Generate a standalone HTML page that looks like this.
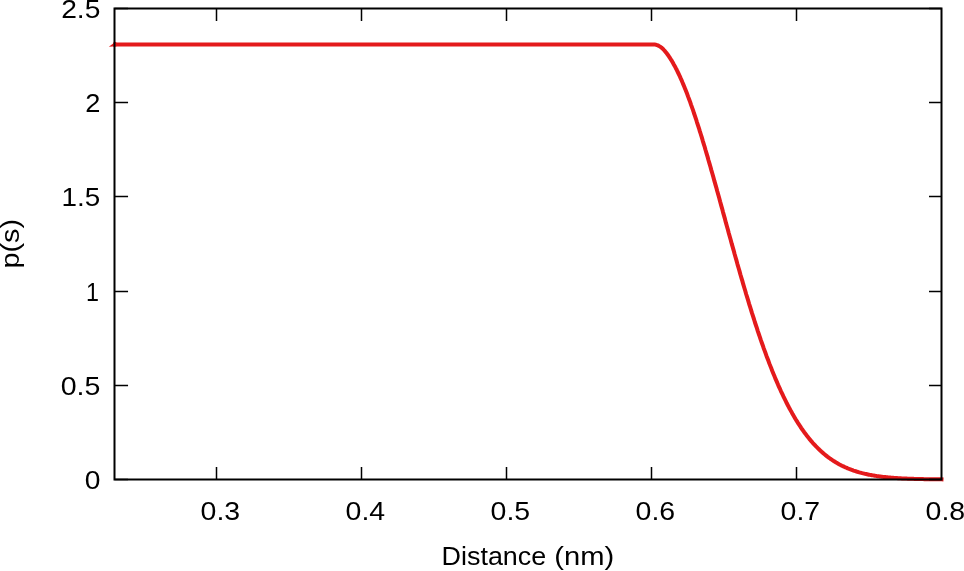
<!DOCTYPE html>
<html>
<head>
<meta charset="utf-8">
<title>p(s) vs Distance (nm)</title>
<style>
html,body{margin:0;padding:0;background:#ffffff;}
body{width:964px;height:571px;overflow:hidden;font-family:"Liberation Sans",sans-serif;}
svg{display:block;position:absolute;left:0;top:0;will-change:transform;}
text{font-family:"Liberation Sans",sans-serif;font-size:25.7px;fill:#000;}
</style>
</head>
<body>
<svg width="964" height="571" viewBox="0 0 964 571">
<rect x="0" y="0" width="964" height="571" fill="#ffffff"/>
<!-- data curve -->
<polygon points="108.8,46.75 115.5,41.8 116.4,42.45 116.4,46.45 113,46.6" fill="#e41a1c"/>
<path d="M113.0,44.45 L653.3,44.45 L654.3,44.49 L655.2,44.60 L656.1,44.80 L657.0,45.07 L657.9,45.42 L658.8,45.84 L659.6,46.34 L660.5,46.92 L661.4,47.57 L662.2,48.30 L663.1,49.10 L663.9,49.98 L664.8,50.94 L665.6,51.96 L666.5,53.06 L667.4,54.24 L668.3,55.48 L669.2,56.80 L670.1,58.19 L671.0,59.65 L672.0,61.17 L672.9,62.77 L673.8,64.43 L674.8,66.16 L675.7,67.96 L676.7,69.82 L677.6,71.75 L678.6,73.74 L679.6,75.79 L680.5,77.90 L681.5,80.07 L682.4,82.30 L683.4,84.59 L684.4,86.93 L685.3,89.33 L686.3,91.79 L687.3,94.30 L688.2,96.86 L689.2,99.47 L690.2,102.13 L691.1,104.83 L692.1,107.59 L693.1,110.39 L694.0,113.23 L695.0,116.12 L696.0,119.04 L696.9,122.01 L697.9,125.02 L698.9,128.06 L699.8,131.14 L700.8,134.25 L701.8,137.40 L702.7,140.58 L703.7,143.79 L704.7,147.02 L705.6,150.29 L706.6,153.58 L707.6,156.89 L708.5,160.23 L709.5,163.59 L710.5,166.97 L711.4,170.37 L712.4,173.78 L713.4,177.21 L714.3,180.66 L715.3,184.12 L716.3,187.59 L717.2,191.07 L718.2,194.57 L719.2,198.06 L720.1,201.57 L721.1,205.08 L722.1,208.59 L723.0,212.11 L724.0,215.63 L725.0,219.15 L725.9,222.66 L726.9,226.18 L727.9,229.69 L728.8,233.19 L729.8,236.69 L730.8,240.19 L731.7,243.67 L732.7,247.15 L733.7,250.61 L734.6,254.06 L735.6,257.50 L736.6,260.93 L737.5,264.34 L738.5,267.74 L739.5,271.12 L740.4,274.48 L741.4,277.82 L742.4,281.15 L743.3,284.45 L744.3,287.74 L745.3,291.00 L746.2,294.24 L747.2,297.45 L748.2,300.65 L749.1,303.81 L750.1,306.95 L751.1,310.07 L752.0,313.16 L753.0,316.22 L754.0,319.25 L754.9,322.26 L755.9,325.24 L756.9,328.18 L757.8,331.10 L758.8,333.99 L759.8,336.84 L760.7,339.67 L761.7,342.46 L762.7,345.22 L763.6,347.95 L764.6,350.65 L765.6,353.31 L766.5,355.94 L767.5,358.54 L768.5,361.10 L769.4,363.63 L770.4,366.13 L771.4,368.59 L772.3,371.02 L773.3,373.41 L774.3,375.77 L775.2,378.10 L776.2,380.39 L777.2,382.64 L778.1,384.86 L779.1,387.05 L780.1,389.20 L781.0,391.32 L782.0,393.40 L783.0,395.45 L783.9,397.47 L784.9,399.45 L785.9,401.40 L786.8,403.31 L787.8,405.19 L788.8,407.03 L789.7,408.85 L790.7,410.63 L791.7,412.37 L792.6,414.09 L793.6,415.77 L794.6,417.42 L795.5,419.04 L796.5,420.62 L797.5,422.18 L798.4,423.70 L799.4,425.19 L800.4,426.65 L801.3,428.09 L802.3,429.49 L803.3,430.86 L804.2,432.20 L805.2,433.52 L806.2,434.80 L807.1,436.06 L808.1,437.29 L809.1,438.49 L810.0,439.67 L811.0,440.81 L812.0,441.94 L812.9,443.03 L813.9,444.10 L814.9,445.15 L815.8,446.17 L816.8,447.16 L817.8,448.13 L818.7,449.08 L819.7,450.00 L820.7,450.90 L821.6,451.78 L822.6,452.64 L823.6,453.47 L824.5,454.29 L825.5,455.08 L826.5,455.85 L827.4,456.60 L828.4,457.33 L829.4,458.04 L830.3,458.74 L831.3,459.41 L832.3,460.06 L833.2,460.70 L834.2,461.32 L835.2,461.92 L836.1,462.51 L837.1,463.08 L838.1,463.63 L839.0,464.17 L840.0,464.69 L841.0,465.19 L841.9,465.68 L842.9,466.16 L843.9,466.62 L844.8,467.07 L845.8,467.51 L846.8,467.93 L847.7,468.34 L848.7,468.74 L849.7,469.12 L850.6,469.49 L851.6,469.85 L852.6,470.20 L853.5,470.54 L854.5,470.87 L855.5,471.19 L856.4,471.49 L857.4,471.79 L858.4,472.08 L859.3,472.35 L860.3,472.62 L861.3,472.88 L862.2,473.13 L863.2,473.38 L864.2,473.61 L865.1,473.84 L866.1,474.06 L867.1,474.27 L868.0,474.47 L869.0,474.67 L870.0,474.86 L870.9,475.04 L871.9,475.22 L872.9,475.39 L873.8,475.55 L874.8,475.71 L875.8,475.86 L876.7,476.01 L877.7,476.15 L878.7,476.29 L879.6,476.42 L880.6,476.55 L881.6,476.67 L882.5,476.79 L883.5,476.90 L884.5,477.01 L885.4,477.11 L886.4,477.21 L887.4,477.31 L888.3,477.40 L889.3,477.49 L890.3,477.58 L891.2,477.66 L892.2,477.74 L893.2,477.82 L894.1,477.89 L895.1,477.96 L896.1,478.03 L897.0,478.09 L898.0,478.16 L899.0,478.22 L899.9,478.27 L900.9,478.33 L901.9,478.38 L902.8,478.43 L903.8,478.48 L904.8,478.53 L905.7,478.57 L906.7,478.61 L907.7,478.65 L908.6,478.69 L909.6,478.73 L910.6,478.77 L911.5,478.80 L912.5,478.83 L913.5,478.86 L914.4,478.89 L915.4,478.92 L916.4,478.95 L917.3,478.98 L918.3,479.00 L919.3,479.03 L920.2,479.05 L921.2,479.07 L922.2,479.09 L923.1,479.11 L924.1,479.13 L925.1,479.15 L926.0,479.17 L927.0,479.18 L928.0,479.20 L928.9,479.21 L929.9,479.23 L930.9,479.24 L931.8,479.25 L932.8,479.27 L933.8,479.28 L934.7,479.29 L935.7,479.30 L936.7,479.31 L937.6,479.32 L938.6,479.33 L939.6,479.34 L940.5,479.35 L941.5,479.35 L943.5,479.45" fill="none" stroke="#e41a1c" stroke-width="4" stroke-linejoin="round" stroke-linecap="butt"/>
<!-- tick marks -->
<path d="M216.50,479.5 V467.00 M216.50,8.5 V21.00 M361.50,479.5 V467.00 M361.50,8.5 V21.00 M506.50,479.5 V467.00 M506.50,8.5 V21.00 M651.50,479.5 V467.00 M651.50,8.5 V21.00 M796.50,479.5 V467.00 M796.50,8.5 V21.00 M114.5,479.50 H128.05 M941.5,479.50 H929.00 M114.5,385.50 H128.05 M941.5,385.50 H929.00 M114.5,291.50 H128.05 M941.5,291.50 H929.00 M114.5,196.50 H128.05 M941.5,196.50 H929.00 M114.5,102.50 H128.05 M941.5,102.50 H929.00 M114.5,8.50 H128.05 M941.5,8.50 H929.00" fill="none" stroke="#000" stroke-width="1.5"/>
<!-- plot border -->
<rect x="114.5" y="8.5" width="827.00" height="471.00" fill="none" stroke="#000" stroke-width="2"/>
<!-- y tick labels -->
<g>
<text x="100.50" y="488.95" text-anchor="end" textLength="15.70" lengthAdjust="spacingAndGlyphs">0</text>
<text x="100.40" y="394.95" text-anchor="end" textLength="39.70" lengthAdjust="spacingAndGlyphs">0.5</text>
<text x="99.05" y="300.95" text-anchor="end" textLength="12.95" lengthAdjust="spacingAndGlyphs">1</text>
<text x="100.30" y="205.95" text-anchor="end" textLength="38.70" lengthAdjust="spacingAndGlyphs">1.5</text>
<text x="100.45" y="111.95" text-anchor="end" textLength="15.15" lengthAdjust="spacingAndGlyphs">2</text>
<text x="100.40" y="17.95" text-anchor="end" textLength="39.20" lengthAdjust="spacingAndGlyphs">2.5</text>
</g>
<!-- x tick labels -->
<g>
<text x="200.60" y="520.1" textLength="39.60" lengthAdjust="spacingAndGlyphs">0.3</text>
<text x="345.60" y="520.1" textLength="39.60" lengthAdjust="spacingAndGlyphs">0.4</text>
<text x="490.60" y="520.1" textLength="39.60" lengthAdjust="spacingAndGlyphs">0.5</text>
<text x="635.60" y="520.1" textLength="39.60" lengthAdjust="spacingAndGlyphs">0.6</text>
<text x="780.60" y="520.1" textLength="39.60" lengthAdjust="spacingAndGlyphs">0.7</text>
<text x="925.60" y="520.1" textLength="39.60" lengthAdjust="spacingAndGlyphs">0.8</text>
</g>
<!-- axis titles -->
<text y="565.3"><tspan x="441.6" textLength="104.6" lengthAdjust="spacingAndGlyphs">Distance</tspan><tspan x="546.2" textLength="68.0" lengthAdjust="spacingAndGlyphs"> (nm)</tspan></text>
<text transform="translate(19,268.55) rotate(-90)" x="0" y="0" textLength="49.7" lengthAdjust="spacingAndGlyphs">p(s)</text>
</svg>
</body>
</html>
